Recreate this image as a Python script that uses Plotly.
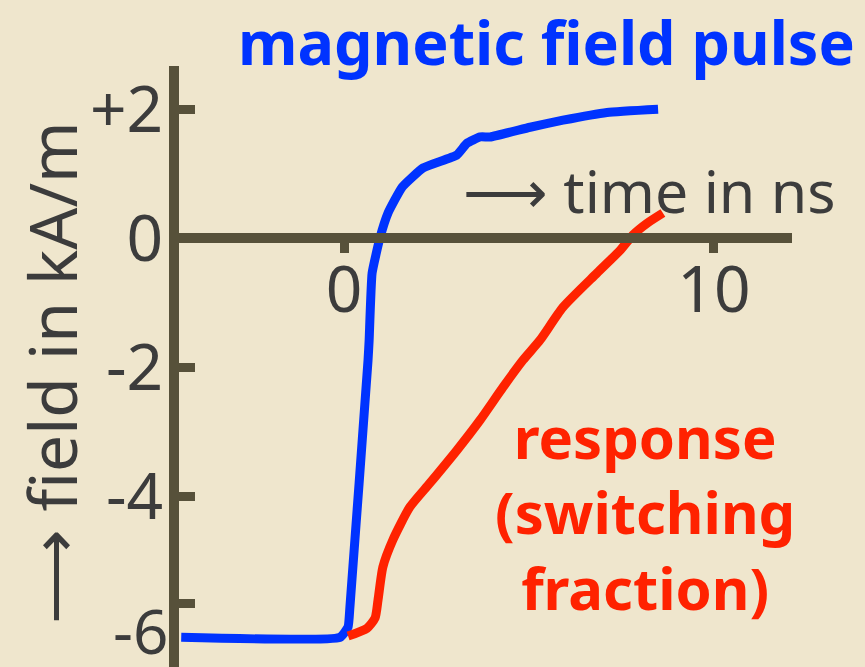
import plotly.graph_objects as go

# magnetic field pulse (blue), time in ns vs field in kA/m
pulse_t = [-4.4, -0.11, 0.11, 0.16, 0.65, 0.68, 0.76, 0.97, 1.19, 1.57, 2.14, 3.05, 3.32, 3.68, 3.95, 5.03, 5.92, 7.11, 8.49]
pulse_h = [-6.19, -6.19, -6.03, -5.72, -1.89, -1.58, -0.54, 0.0, 0.39, 0.79, 1.09, 1.29, 1.47, 1.57, 1.57, 1.72, 1.83, 1.95, 2.0]

# response / switching fraction (red)
resp_t = [0.11, 0.62, 0.84, 0.92, 1.05, 1.32, 1.78, 2.32, 3.05, 3.68, 4.30, 4.84, 5.30, 5.92, 6.84, 7.46, 7.81, 8.19, 8.62]
resp_h = [-6.17, -6.05, -5.89, -5.61, -5.10, -4.68, -4.17, -3.80, -3.29, -2.82, -2.31, -1.89, -1.58, -1.07, -0.54, -0.19, 0.05, 0.23, 0.39]

x_ticks = [0, 10]
y_ticks = [2, 0, -2, -4, -5.67]
y_ticktext = ["+2", "0", "-2", "-4", ""]

BG = "#EFE6CD"
AXIS = "#57513A"
TEXT = "#3C3C3C"
BLUE = "#0033FF"
RED = "#FF2200"
FONT = "Noto Sans"

y_lo, y_hi = -6.65, 2.67

fig = go.Figure()
fig.add_trace(go.Scatter(x=pulse_t, y=pulse_h, mode="lines",
                         line=dict(color=BLUE, width=9, shape="spline", smoothing=0.4)))
fig.add_trace(go.Scatter(x=resp_t, y=resp_h, mode="lines",
                         line=dict(color=RED, width=9, shape="spline", smoothing=0.6)))

fig.update_layout(
    width=865, height=667, showlegend=False,
    paper_bgcolor=BG, plot_bgcolor=BG,
    margin=dict(l=179, r=73, t=66, b=0),
    font=dict(family=FONT, color=TEXT),
    xaxis=dict(range=[-4.46, 12.11], tickvals=x_ticks, showgrid=False, zeroline=False,
               showline=True, linecolor=AXIS, linewidth=10,
               ticks="outside", ticklen=10, tickwidth=9, tickcolor=AXIS,
               ticklabelstandoff=-18,
               tickfont=dict(size=64, color=TEXT, family=FONT),
               anchor="free", position=(0 - y_lo) / (y_hi - y_lo)),
    yaxis=dict(range=[y_lo, y_hi], tickvals=y_ticks, ticktext=y_ticktext,
               showgrid=False, zeroline=False,
               showline=True, linecolor=AXIS, linewidth=10,
               ticks="inside", ticklen=16, tickwidth=9, tickcolor=AXIS,
               ticklabelstandoff=-7,
               tickfont=dict(size=64, color=TEXT, family=FONT)),
    annotations=[
        dict(text="<b>magnetic field pulse</b>", x=0.60, y=1.04, xref="paper", yref="paper",
             xanchor="center", yanchor="middle", showarrow=False,
             font=dict(size=61, color=BLUE, family=FONT)),
        dict(text="⟶ time in ns", x=0.767, y=0.794, xref="paper", yref="paper",
             xanchor="center", yanchor="middle", showarrow=False,
             font=dict(size=59, color=TEXT, family=FONT)),
        dict(text="<b>response<br>(switching<br>fraction)</b>", x=0.76, y=0.258, xref="paper", yref="paper",
             xanchor="center", yanchor="middle", showarrow=False, align="center",
             font=dict(size=58, color=RED, family=FONT)),
        dict(text="⟶ field in kA/m", x=-0.21, y=0.49, xref="paper", yref="paper", textangle=-90,
             xanchor="center", yanchor="middle", showarrow=False,
             font=dict(size=66, color=TEXT, family=FONT)),
        dict(text="-6", x=-0.015, y=-6.07, xref="paper", yref="y", xanchor="right", yanchor="middle",
             showarrow=False, font=dict(size=62, color=TEXT, family=FONT)),
    ],
)

fig.write_html("out.html", config={"displayModeBar": False},
               post_script="document.body.style.margin='0';")
